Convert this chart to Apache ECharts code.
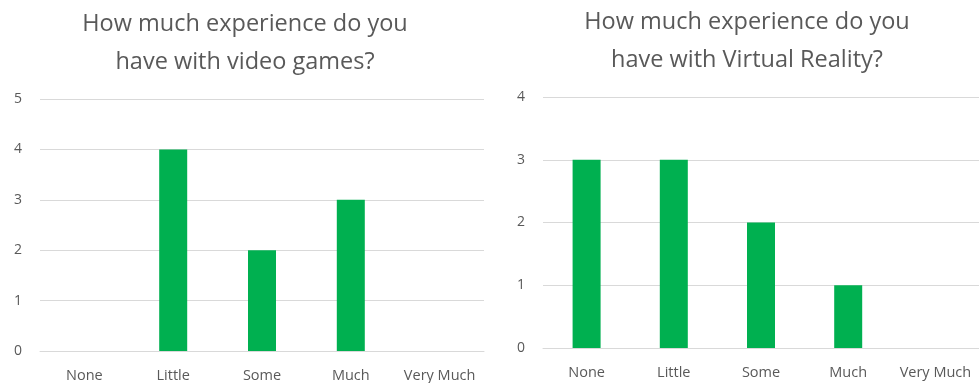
<!DOCTYPE html>
<html>
<head>
<meta charset="utf-8">
<script src="https://cdn.jsdelivr.net/npm/echarts@6/dist/echarts.min.js"></script>
<style>
html, body { margin: 0; padding: 0; background: #fff; }
#chart { width: 979px; height: 383px; }
</style>
</head>
<body>
<div id="chart"></div>
<script>
// Survey answer categories shared by both charts
const categories = ['None', 'Little', 'Some', 'Much', 'Very Much'];
// Number of respondents per answer
const videoGameCounts = [0, 4, 2, 3, 0];
const vrCounts = [3, 3, 2, 1, 0];
// Titles
const videoGameTitle = 'How much experience do you\nhave with video games?';
const vrTitle = 'How much experience do you\nhave with Virtual Reality?';

const textColor = '#595959';
const gridColor = '#d9d9d9';
const barColor = '#00B050';
const fontFamily = 'Open Sans, Liberation Sans, sans-serif';

function xAxis(gridIndex) {
  return {
    type: 'category', gridIndex, data: categories,
    axisLine: { show: true, lineStyle: { color: gridColor } },
    axisTick: { show: false },
    axisLabel: { color: textColor, fontSize: 14.5, fontFamily, margin: 17,
                 interval: 0, hideOverlap: false }
  };
}
function yAxis(gridIndex, max) {
  return {
    type: 'value', gridIndex, min: 0, max, interval: 1,
    axisLine: { show: false }, axisTick: { show: false },
    splitLine: { lineStyle: { color: gridColor } },
    axisLabel: { color: textColor, fontSize: 14, fontFamily, margin: 18 }
  };
}

const chart = echarts.init(document.getElementById('chart'));
chart.setOption({
  animation: false,
  title: [
    { text: videoGameTitle, left: 240, top: 0, textAlign: 'center',
      textStyle: { color: textColor, fontSize: 23.5, fontWeight: 'normal', fontFamily, lineHeight: 38 } },
    { text: vrTitle, left: 742, top: -2, textAlign: 'center',
      textStyle: { color: textColor, fontSize: 23.5, fontWeight: 'normal', fontFamily, lineHeight: 38 } }
  ],
  grid: [
    { left: 40, top: 99, width: 444, height: 252 },
    { left: 543, top: 97, width: 438, height: 251 }
  ],
  xAxis: [xAxis(0), xAxis(1)],
  yAxis: [yAxis(0, 5), yAxis(1, 4)],
  series: [
    { type: 'bar', xAxisIndex: 0, yAxisIndex: 0, data: videoGameCounts,
      barWidth: 28, itemStyle: { color: barColor } },
    { type: 'bar', xAxisIndex: 1, yAxisIndex: 1, data: vrCounts,
      barWidth: 28, itemStyle: { color: barColor } }
  ]
});
</script>
</body>
</html>
